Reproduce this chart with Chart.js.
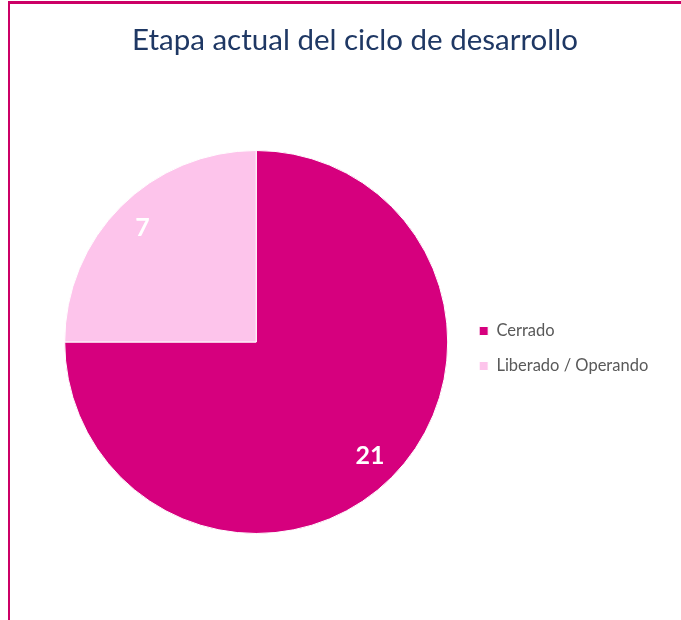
<!DOCTYPE html>
<html>
<head>
<meta charset="utf-8">
<script src="https://cdn.jsdelivr.net/npm/chart.js@4"></script>
<style>
  html, body { margin: 0; padding: 0; background: #fff; }
  #wrap { position: relative; width: 681px; height: 620px; overflow: hidden; }
  #borde-top { position: absolute; left: 8px; top: 1px; width: 673px; height: 3px; background: #cc0066; }
  #borde-left { position: absolute; left: 8px; top: 1px; width: 2px; height: 619px; background: #cc0066; }
  canvas { position: absolute; left: 0; top: 0; }
</style>
</head>
<body>
<div id="wrap">
  <canvas id="chart-etapa" width="681" height="620"></canvas>
  <div id="borde-top"></div>
  <div id="borde-left"></div>
</div>
<script>
var titulo = 'Etapa actual del ciclo de desarrollo';
var etiquetas = ['Cerrado', 'Liberado / Operando'];
var valores = [21, 7];
var colores = ['#d6007e', '#fdc4eb'];

// numeros blancos dentro de cada porcion
var etiquetasDatos = {
    id: 'etiquetasDatos',
    afterDatasetsDraw: function (chart) {
        var ctx = chart.ctx;
        var meta = chart.getDatasetMeta(0);
        ctx.save();
        ctx.fillStyle = '#ffffff';
        ctx.font = 'bold 25px Lato';
        ctx.textAlign = 'center';
        ctx.textBaseline = 'middle';
        meta.data.forEach(function (arco, i) {
            var p = arco.getProps(['x', 'y', 'startAngle', 'endAngle', 'outerRadius'], true);
            var medio = (p.startAngle + p.endAngle) / 2;
            var r = p.outerRadius * 0.84;
            ctx.fillText(valores[i], p.x + Math.cos(medio) * r, p.y + Math.sin(medio) * r);
        });
        ctx.restore();
    }
};

var ctx = document.getElementById('chart-etapa').getContext('2d');
var grafico = new Chart(ctx, {
    type: 'pie',
    data: {
        labels: etiquetas,
        datasets: [{
            data: valores,
            backgroundColor: colores,
            borderColor: '#ffffff',
            borderWidth: 1
        }]
    },
    options: {
        responsive: false,
        animation: false,
        layout: {
            padding: { left: 51.75, right: 22.75, top: 12, bottom: 86 }
        },
        plugins: {
            title: {
                display: true,
                text: titulo,
                color: '#1f3864',
                font: { family: 'Lato', size: 29.5, weight: 'normal' },
                padding: { top: 10.3, bottom: 92.3 }
            },
            legend: {
                display: true,
                position: 'right',
                fullSize: false,
                // titulo vacio solo para bajar un poco las entradas
                title: { display: true, text: '', font: { size: 10 }, padding: 0.5 },
                labels: {
                    boxWidth: 9,
                    boxHeight: 9,
                    color: '#595959',
                    font: { family: 'Lato', size: 16.5 },
                    padding: 18.5
                }
            },
            tooltip: { enabled: false }
        }
    },
    plugins: [etiquetasDatos]
});
</script>
</body>
</html>
